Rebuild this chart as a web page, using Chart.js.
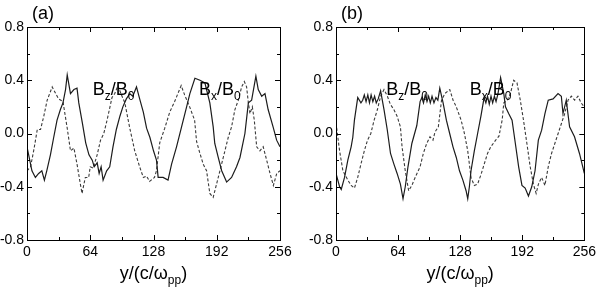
<!DOCTYPE html>
<html>
<head>
<meta charset="utf-8">
<script src="https://cdn.jsdelivr.net/npm/chart.js@4/dist/chart.umd.min.js"></script>
<style>
  html, body { margin: 0; padding: 0; background: #fff; }
  #wrap { position: relative; width: 600px; height: 290px; overflow: hidden; }
  canvas { position: absolute; top: 0; }
  #panelA { left: 0; }
  #panelB { left: 300px; }
</style>
</head>
<body>
<div id="wrap">
  <canvas id="panelA" width="300" height="290"></canvas>
  <canvas id="panelB" width="300" height="290"></canvas>
</div>
<script>
// axis ticks
const xTicks = [0, 64, 128, 192, 256];
const yTicks = [-0.8, -0.4, 0.0, 0.4, 0.8];

// panel (a)
const aSolidX = [0, 5, 8.5, 11.8, 15, 17.6, 20, 23.7, 27, 30.4, 33.8, 36.4, 39, 40.7, 44, 47.5, 50.6, 52.4, 56, 59.4, 62.7, 66, 68, 71, 73, 75, 77, 80.6, 83.7, 87, 90.4, 94, 97, 100.5, 104, 107, 110.8, 114, 117.7, 121, 124.4, 128, 131, 132.7, 137.7, 142.7, 146.3, 151.3, 156.4, 161.5, 164.8, 169.9, 175, 180, 185, 188.4, 190, 193.5, 197, 202, 207, 212, 215.5, 220.5, 224, 227.3, 231.6, 234, 237.5, 240.8, 244, 249, 252.6, 256];
const aSolidY = [-0.1, -0.28, -0.33, -0.3, -0.28, -0.35, -0.28, -0.16, -0.03, 0.1, 0.18, 0.23, 0.33, 0.44, 0.3, 0.33, 0.34, 0.23, 0.08, -0.07, -0.16, -0.2, -0.25, -0.22, -0.3, -0.25, -0.35, -0.28, -0.25, -0.1, 0.03, 0.13, 0.2, 0.26, 0.3, 0.28, 0.35, 0.26, 0.16, 0.04, -0.03, -0.13, -0.2, -0.33, -0.33, -0.35, -0.23, -0.1, 0.05, 0.2, 0.3, 0.415, 0.4, 0.38, 0.23, 0.05, -0.075, -0.18, -0.28, -0.365, -0.33, -0.25, -0.18, 0.0, 0.23, 0.25, 0.43, 0.33, 0.28, 0.3, 0.18, 0.05, -0.05, -0.1];
const aDashX = [0, 3.6, 7, 10.4, 13.7, 17, 20.4, 25.5, 29, 32, 36.4, 40.7, 44, 47.5, 50.6, 54, 55.7, 59, 62.4, 64, 67, 71, 74.4, 77.7, 81, 86, 88.8, 92, 95, 99, 104, 109, 114, 117.7, 121, 124, 129, 131, 134.3, 139.4, 144.4, 149.4, 156, 159.5, 164.6, 169.6, 171.6, 175, 178.3, 181.7, 185, 188.4, 191.8, 195.2, 198.6, 203.6, 207, 210.4, 213.8, 217.2, 219.9, 222.2, 224, 225.6, 228, 230, 232.4, 235.7, 239, 242.5, 245.9, 249.3, 252.7, 256];
const aDashY = [-0.28, -0.25, -0.12, 0.03, 0.03, 0.13, 0.25, 0.35, 0.3, 0.26, 0.24, 0.04, -0.13, -0.11, -0.23, -0.38, -0.45, -0.33, -0.33, -0.25, -0.26, -0.16, -0.05, 0.0, 0.1, 0.27, 0.3, 0.36, 0.3, 0.23, 0.04, -0.13, -0.25, -0.33, -0.32, -0.36, -0.33, -0.28, -0.07, 0.04, 0.16, 0.24, 0.36, 0.29, 0.2, 0.1, -0.06, -0.15, -0.23, -0.28, -0.45, -0.48, -0.38, -0.28, -0.18, -0.03, 0.05, 0.18, 0.25, 0.35, 0.39, 0.35, 0.23, 0.15, 0.2, 0.1, -0.1, -0.13, -0.1, -0.2, -0.3, -0.39, -0.3, -0.28];

// panel (b)
const bSolidX = [0, 3.7, 5.4, 8.8, 12.2, 15.6, 17.3, 19, 22.4, 25.7, 27.5, 29.2, 31, 32.8, 34.5, 36.2, 38, 39.8, 41.5, 43.5, 46, 49.5, 52.8, 56.2, 59.7, 63, 66.4, 69.1, 71.4, 74.2, 78.2, 83.3, 86.7, 88.5, 90.2, 92, 93.8, 95.5, 97.2, 99, 101, 103, 105, 107, 110.4, 113.8, 117.2, 120.6, 124, 127.3, 130.8, 134.1, 135.8, 137.5, 139.2, 142.6, 146, 149.4, 152.7, 154.5, 156.2, 158, 159.8, 161.5, 163.3, 165, 167, 169.7, 173, 174.7, 178, 181.5, 184.9, 188.3, 191.7, 195, 198.4, 201.8, 205.2, 208.6, 212, 215.4, 218.8, 223.8, 228.9, 232.3, 234, 237.4, 240.8, 245.9, 251, 254.4, 256];
const bSolidY = [-0.3, -0.4, -0.42, -0.33, -0.2, -0.1, -0.03, 0.1, 0.27, 0.23, 0.25, 0.29, 0.24, 0.29, 0.23, 0.29, 0.24, 0.28, 0.23, 0.26, 0.32, 0.18, 0.03, -0.15, -0.23, -0.3, -0.38, -0.49, -0.4, -0.25, -0.075, 0.06, 0.24, 0.27, 0.23, 0.29, 0.24, 0.28, 0.23, 0.28, 0.23, 0.27, 0.25, 0.34, 0.23, 0.1, 0.0, -0.1, -0.18, -0.28, -0.35, -0.43, -0.49, -0.4, -0.28, -0.13, 0.0, 0.13, 0.27, 0.23, 0.28, 0.22, 0.28, 0.23, 0.28, 0.24, 0.3, 0.42, 0.3, 0.2, 0.15, 0.1, -0.075, -0.25, -0.39, -0.41, -0.47, -0.4, -0.28, -0.05, 0.025, 0.15, 0.25, 0.26, 0.3, 0.28, 0.15, 0.25, 0.05, -0.025, -0.15, -0.25, -0.3];
const bDashX = [0, 3.7, 7.1, 12.2, 15.6, 19, 22.4, 25.7, 29.2, 32.5, 35.9, 39.3, 42.7, 46, 49.5, 53, 56, 59.6, 63, 66.4, 68.1, 71.4, 74.9, 78.2, 81.6, 86.7, 90, 93.5, 96.9, 100, 102, 105.5, 108.8, 112.2, 117.3, 120.7, 124, 129, 132.4, 135.8, 139.2, 142.6, 146, 149.4, 152.8, 156.2, 159.6, 164.6, 168, 171.3, 173, 176.5, 179.8, 183.2, 186.6, 190, 193.3, 196.8, 200.2, 203.5, 206.3, 208.7, 212, 215.4, 218.8, 222.2, 225.6, 229, 232.4, 235.8, 239.2, 242.6, 246, 249.4, 252.7, 256];
const bDashY = [0.08, -0.13, -0.28, -0.35, -0.39, -0.41, -0.33, -0.23, -0.13, -0.05, 0.0, 0.1, 0.18, 0.28, 0.33, 0.28, 0.22, 0.18, 0.13, 0.05, -0.1, -0.28, -0.43, -0.39, -0.33, -0.25, -0.15, -0.075, -0.025, -0.05, 0.01, 0.05, 0.25, 0.3, 0.33, 0.25, 0.2, 0.1, 0.0, -0.13, -0.33, -0.39, -0.38, -0.31, -0.23, -0.15, -0.1, -0.05, -0.02, 0.1, 0.23, 0.25, 0.3, 0.4, 0.38, 0.25, 0.1, -0.075, -0.25, -0.38, -0.45, -0.38, -0.33, -0.39, -0.25, -0.15, -0.075, 0.0, 0.075, 0.15, 0.25, 0.28, 0.25, 0.28, 0.23, 0.2];

// where the in-plot labels sit (data coords)
const notesA = [{ x: 66.5, y: 0.29, sub: "z" }, { x: 174, y: 0.29, sub: "x" }];
const notesB = [{ x: 51.8, y: 0.29, sub: "z" }, { x: 138, y: 0.29, sub: "x" }];

const FONT = "Arial, 'Liberation Sans', Helvetica, sans-serif";

function toPoints(xs, ys) {
  return xs.map((x, i) => ({ x, y: ys[i] }));
}

// draws a run of [text, isSubscript] pieces
function drawRich(ctx, parts, x, y, big, small) {
  parts.forEach(([text, sub]) => {
    ctx.font = `${sub ? small : big}px ${FONT}`;
    ctx.fillText(text, x, sub ? y + 5 : y);
    x += ctx.measureText(text).width;
  });
  return x;
}

function richWidth(ctx, parts, big, small) {
  return parts.reduce((w, [text, sub]) => {
    ctx.font = `${sub ? small : big}px ${FONT}`;
    return w + ctx.measureText(text).width;
  }, 0);
}

const framePlugin = {
  id: "frame",
  afterDatasetsDraw(chart) {
    const { ctx, chartArea: a, scales } = chart;
    const sx = scales.x;
    const sy = scales.y;
    ctx.save();
    ctx.strokeStyle = "#000";
    ctx.lineWidth = 1;
    ctx.strokeRect(Math.round(a.left) + 0.5, Math.round(a.top) + 0.5, Math.round(a.right - a.left), Math.round(a.bottom - a.top));
    ctx.beginPath();
    for (let v = 0; v <= 256; v += 32) {
      const px = Math.round(sx.getPixelForValue(v)) + 0.5;
      const len = v % 64 === 0 ? 5 : 3;
      ctx.moveTo(px, a.bottom);
      ctx.lineTo(px, a.bottom - len);
      ctx.moveTo(px, a.top);
      ctx.lineTo(px, a.top + len);
    }
    for (let i = -4; i <= 4; i += 1) {
      const py = Math.round(sy.getPixelForValue(i * 0.2)) + 0.5;
      const len = i % 2 === 0 ? 5 : 3;
      ctx.moveTo(a.left, py);
      ctx.lineTo(a.left + len, py);
      ctx.moveTo(a.right, py);
      ctx.lineTo(a.right - len, py);
    }
    ctx.stroke();
    ctx.restore();
  },
};

function makeTextPlugin(panelLabel, notes) {
  return {
    id: "texts",
    afterDraw(chart) {
      const { ctx, chartArea: a, scales } = chart;
      ctx.save();
      ctx.fillStyle = "#000";
      ctx.textBaseline = "alphabetic";
      ctx.textAlign = "left";

      ctx.font = `18px ${FONT}`;
      ctx.fillText(panelLabel, a.left + 5, 19);

      notes.forEach((n) => {
        const px = scales.x.getPixelForValue(n.x);
        const py = scales.y.getPixelForValue(n.y);
        drawRich(ctx, [["B", false], [n.sub, true], ["/B", false], ["0", true]], px, py, 18, 12);
      });

      const title = [["y/(c/\u03c9", false], ["pp", true], [")", false]];
      const w = richWidth(ctx, title, 18, 12);
      const cx = (a.left + a.right) / 2;
      drawRich(ctx, title, cx - w / 2, 279, 18, 12);
      ctx.restore();
    },
  };
}

function makePanel(canvasId, solidX, solidY, dashX, dashY, axisWidth, padRight, panelLabel, notes) {
  return new Chart(document.getElementById(canvasId), {
    type: "line",
    data: {
      datasets: [
        {
          label: "solid",
          data: toPoints(solidX, solidY),
          borderColor: "#1c1c1c",
          borderWidth: 1.2,
          pointRadius: 0,
          tension: 0,
        },
        {
          label: "dashed",
          data: toPoints(dashX, dashY),
          borderColor: "#3a3a3a",
          borderWidth: 1.1,
          borderDash: [3, 2],
          pointRadius: 0,
          tension: 0,
        },
      ],
    },
    options: {
      responsive: false,
      animation: false,
      events: [],
      layout: { padding: { top: 27, right: padRight, left: 0, bottom: 0 } },
      plugins: { legend: { display: false }, tooltip: { enabled: false } },
      scales: {
        x: {
          type: "linear",
          min: xTicks[0],
          max: xTicks[xTicks.length - 1],
          afterBuildTicks: (scale) => {
            scale.ticks = xTicks.map((value) => ({ value }));
          },
          afterFit: (scale) => {
            scale.height = 50;
          },
          grid: { display: false, drawTicks: false },
          border: { display: false },
          ticks: {
            color: "#000",
            padding: 4,
            maxRotation: 0,
            autoSkip: false,
            font: { family: FONT, size: 14 },
            callback: (v) => String(v),
          },
        },
        y: {
          type: "linear",
          min: yTicks[0],
          max: yTicks[yTicks.length - 1],
          afterBuildTicks: (scale) => {
            scale.ticks = yTicks.map((value) => ({ value }));
          },
          afterFit: (scale) => {
            scale.width = axisWidth;
          },
          grid: { display: false, drawTicks: false },
          border: { display: false },
          ticks: {
            color: "#000",
            padding: 3,
            autoSkip: false,
            font: { family: FONT, size: 14 },
            callback: (v) => Number(v).toFixed(1),
          },
        },
      },
    },
    plugins: [framePlugin, makeTextPlugin(panelLabel, notes)],
  });
}

makePanel("panelA", aSolidX, aSolidY, aDashX, aDashY, 27, 20, "(a)", notesA);
makePanel("panelB", bSolidX, bSolidY, bDashX, bDashY, 36, 12, "(b)", notesB);
</script>
</body>
</html>
